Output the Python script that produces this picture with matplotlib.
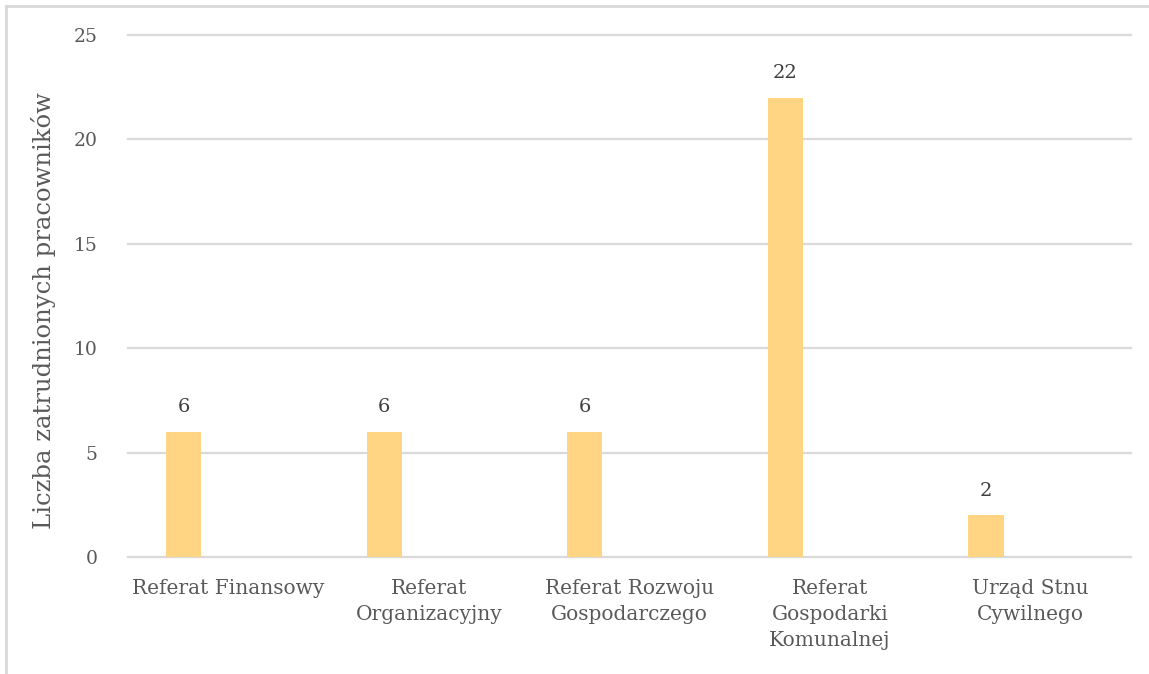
import numpy as np
import matplotlib
matplotlib.use("Agg")
from matplotlib import pyplot as plt

categories = ["Referat Finansowy", "Referat\nOrganizacyjny", "Referat Rozwoju\nGospodarczego",
              "Referat\nGospodarki\nKomunalnej", "Urząd Stnu\nCywilnego"]
values = [6, 6, 6, 22, 2]
yticks = [0, 5, 10, 15, 20, 25]
ylabel = "Liczba zatrudnionych pracowników"

plt.rcParams['font.family'] = ['DejaVu Serif']
txt = '#595959'
grid = '#d9d9d9'

fig = plt.figure(figsize=(11.49, 6.74), dpi=100)
ax = fig.add_axes([128/1149, (674-557)/674, (1131-128)/1149, (557-35)/674])

x = np.arange(len(categories))
bars = ax.bar(x - 0.223, values, width=0.175, color='#ffd583', zorder=3)
for b, v in zip(bars, values):
    ax.text(b.get_x() + b.get_width()/2, v + 0.75, str(v), ha='center', va='bottom',
            fontsize=14, color='#404040')

ax.set_xlim(-0.5, len(categories) - 0.5)
ax.set_ylim(0, 25)
ax.set_yticks(yticks)
ax.set_xticks(x)
ax.set_xticklabels(categories, fontsize=14.5, color=txt, linespacing=1.45)
ax.tick_params(axis='y', labelsize=13.5, labelcolor=txt, length=0, pad=22)
ax.tick_params(axis='x', length=0, pad=16)
ax.yaxis.grid(True, color=grid, linewidth=1.6, zorder=0)
for g in ax.get_ygridlines():
    g.set_clip_on(False)
for s in ax.spines.values():
    s.set_visible(False)
ax.set_ylabel(ylabel, fontsize=17.5, color=txt)
ax.yaxis.set_label_coords(-0.072, 0.472)

# outer chart frame
fig.add_artist(plt.Line2D([6/1149, 1.0], [1 - 6/674, 1 - 6/674], color=grid, linewidth=2))
fig.add_artist(plt.Line2D([6/1149, 6/1149], [0, 1 - 6/674], color=grid, linewidth=2))

fig.savefig("out.png", dpi=100)
